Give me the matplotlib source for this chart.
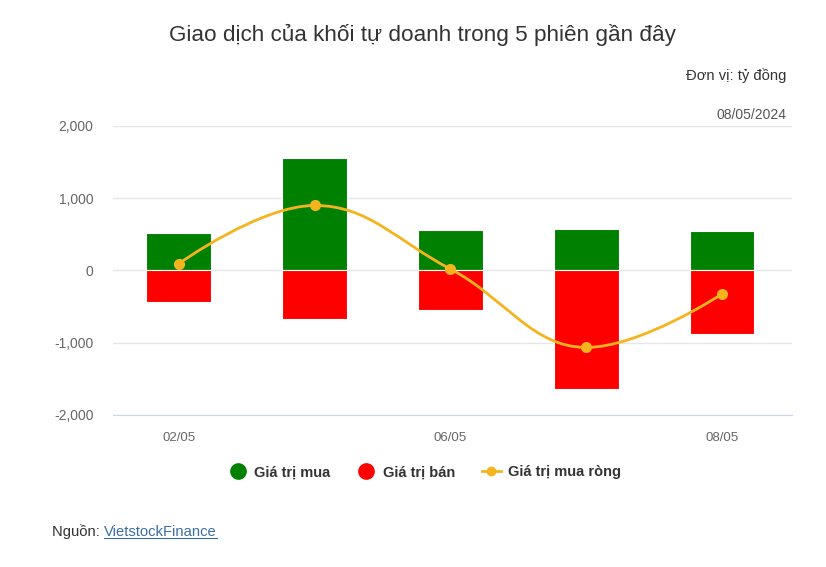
import matplotlib
matplotlib.use("Agg")
import matplotlib.pyplot as plt
from matplotlib.path import Path
from matplotlib.patches import PathPatch
from matplotlib.lines import Line2D
import numpy as np

plt.rcParams['font.family'] = ['Liberation Sans', 'DejaVu Sans']

# data (tỷ đồng)
dates = ['02/05', '03/05', '06/05', '07/05', '08/05']
buy = [525, 1560, 560, 575, 540]
sell = [-435, -675, -545, -1645, -873]
net = [95, 900, 20, -1065, -325]

GREEN = '#008000'
RED = '#ff0000'
ORANGE = '#f5b41e'


def spline_path(xs, ys, smoothing=1.5):
    # highcharts-like spline: cubic bezier segments between points
    n = len(xs)
    left, right = [], []
    for i in range(n):
        x, y = xs[i], ys[i]
        if i == 0 or i == n - 1:
            left.append((x, y))
            right.append((x, y))
            continue
        d = smoothing + 1
        lx = (smoothing * x + xs[i - 1]) / d
        ly = (smoothing * y + ys[i - 1]) / d
        rx = (smoothing * x + xs[i + 1]) / d
        ry = (smoothing * y + ys[i + 1]) / d
        corr = (ry - ly) * (rx - x) / (rx - lx) + y - ry
        ly += corr
        ry += corr
        if ly > max(ys[i - 1], y):
            ly = max(ys[i - 1], y); ry = 2 * y - ly
        elif ly < min(ys[i - 1], y):
            ly = min(ys[i - 1], y); ry = 2 * y - ly
        if ry > max(ys[i + 1], y):
            ry = max(ys[i + 1], y); ly = 2 * y - ry
        elif ry < min(ys[i + 1], y):
            ry = min(ys[i + 1], y); ly = 2 * y - ry
        left.append((lx, ly))
        right.append((rx, ry))
    verts = [(xs[0], ys[0])]
    codes = [Path.MOVETO]
    for i in range(1, n):
        verts += [right[i - 1], left[i], (xs[i], ys[i])]
        codes += [Path.CURVE4] * 3
    return Path(verts, codes)


fig = plt.figure(figsize=(8.26, 5.67), dpi=100)
ax = fig.add_axes([0.1368, 0.2681, 0.822, 0.5097])

x = np.arange(len(dates))
ax.bar(x, buy, width=0.478, color=GREEN, edgecolor='white', linewidth=0.8, zorder=2)
ax.bar(x, sell, width=0.478, color=RED, edgecolor='white', linewidth=0.8, zorder=2)

ax.add_patch(PathPatch(spline_path(list(x), net), facecolor='none', edgecolor=ORANGE,
                       linewidth=2, zorder=3))
ax.plot(x, net, 'o', color=ORANGE, markersize=7, zorder=4)

ax.set_xlim(-0.485, 4.515)
ax.set_ylim(-2000, 2000)
ax.set_yticks([-2000, -1000, 0, 1000, 2000])
ax.set_yticklabels(['{:,}'.format(v) for v in [-2000, -1000, 0, 1000, 2000]])
ax.set_xticks(x[::2])
ax.set_xticklabels(dates[::2])
ax.tick_params(axis='both', length=0, labelsize=9.5, colors='#666666')
ax.tick_params(axis='y', labelsize=10, pad=14)
ax.tick_params(axis='x', pad=12)
ax.grid(axis='y', color='#e6e6e6', linewidth=1, zorder=0)
for s in ['top', 'left', 'right']:
    ax.spines[s].set_visible(False)
ax.spines['bottom'].set_color('#ccd6eb')
ax.spines['bottom'].set_zorder(1)

fig.text(0.512, 0.938, 'Giao dịch của khối tự doanh trong 5 phiên gần đây',
         ha='center', va='center', fontsize=16.2, color='#333333')
fig.text(0.952, 0.866, 'Đơn vị: tỷ đồng', ha='right', va='center', fontsize=10.6, color='#333333')
fig.text(0.952, 0.797, '08/05/2024', ha='right', va='center', fontsize=10, color='#555555')

handles = [
    Line2D([], [], marker='o', linestyle='none', color=GREEN, markersize=11),
    Line2D([], [], marker='o', linestyle='none', color=RED, markersize=11),
    Line2D([], [], marker='o', linestyle='-', color=ORANGE, markersize=6, linewidth=2),
]
fig.legend(handles, ['Giá trị mua', 'Giá trị bán', 'Giá trị mua ròng'],
           loc='center', bbox_to_anchor=(0.514, 0.167), ncol=3, frameon=False,
           prop={'weight': 'bold', 'size': 10.5}, labelcolor='#333333',
           handlelength=1.3, handletextpad=0.5, columnspacing=1.8)

src = fig.text(0.063, 0.062, 'Nguồn: ', ha='left', va='center', fontsize=10.6, color='#333333')
fig.canvas.draw()
r = fig.canvas.get_renderer()
bb = src.get_window_extent(r).transformed(fig.transFigure.inverted())
link = fig.text(bb.x1, 0.062, 'VietstockFinance', ha='left', va='center', fontsize=10.6,
                color='#3a6ea5')
fig.canvas.draw()
lb = link.get_window_extent(r).transformed(fig.transFigure.inverted())
fig.add_artist(Line2D([lb.x0, lb.x1], [lb.y0 + 0.002, lb.y0 + 0.002],
                      transform=fig.transFigure, color='#3a6ea5', linewidth=0.8))

fig.savefig('out.png', dpi=100, facecolor='white')
